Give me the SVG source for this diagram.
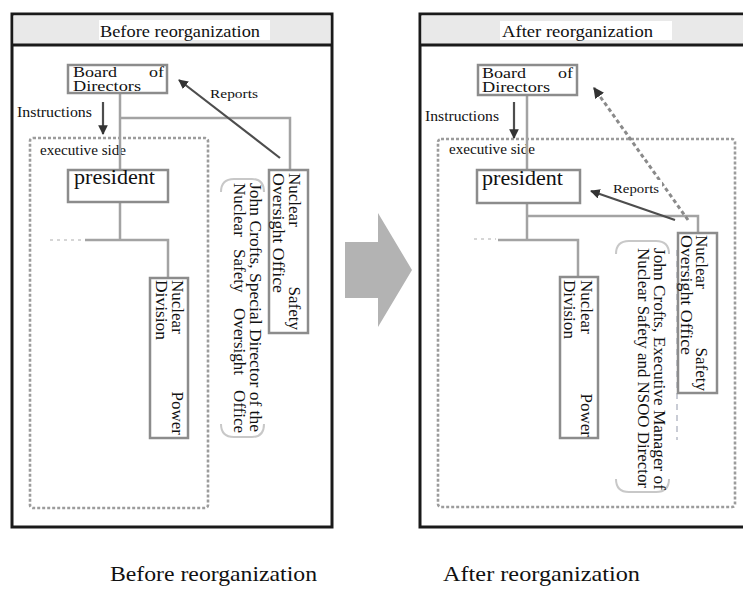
<svg xmlns="http://www.w3.org/2000/svg" width="743" height="592" viewBox="0 0 743 592">
<style>
text{font-family:"Liberation Serif","Times New Roman",serif;fill:#111}
.panel{fill:#fff;stroke:#1a1a1a;stroke-width:3}
.band{fill:#e9e9e9}
.sep{stroke:#1a1a1a;stroke-width:3}
.hdrbg{fill:#fff}
.box{fill:#fff;stroke:#8c8c8c;stroke-width:2.5}
.exec{fill:none;stroke:#9c9c9c;stroke-width:2.6;stroke-dasharray:3 2}
.conn{fill:none;stroke:#a3a3a3;stroke-width:2.5}
.faint{fill:none;stroke:#d6d6d6;stroke-width:2;stroke-dasharray:3 4}
.arr{fill:none;stroke:#4d4d4d;stroke-width:2.2}
.darr{fill:none;stroke:#8a8a8a;stroke-width:3;stroke-dasharray:4 3}
.brk{fill:none;stroke:#c8c8c8;stroke-width:2}
.t14{font-size:14px}
.t13{font-size:13px}
.t16{font-size:16px}
.tb{font-size:14px}
.t17{font-size:17px}
.t21{font-size:21px}
.cap{font-size:21px}
</style>
<defs>
<marker id="ah" viewBox="0 0 10 10" refX="9" refY="5" markerWidth="4.4" markerHeight="4.4" orient="auto" markerUnits="strokeWidth">
<path d="M0,0 L10,5 L0,10 z" fill="#333"/>
</marker>
<marker id="ah2" viewBox="0 0 10 10" refX="9" refY="5" markerWidth="3.6" markerHeight="3.6" orient="auto" markerUnits="strokeWidth">
<path d="M0,0 L10,5 L0,10 z" fill="#333"/>
</marker>
</defs>

<!-- Panels -->
<g id="panel-before">
<rect class="panel" x="12" y="14" width="320" height="513"/>
<rect class="band" x="13.5" y="15.5" width="317" height="28.5"/>
<line class="sep" x1="12" y1="45" x2="332" y2="45"/>
<rect class="hdrbg" x="99" y="20" width="171" height="20"/>
<text class="t16" x="100" y="37" textLength="160" lengthAdjust="spacingAndGlyphs">Before reorganization</text>
<rect class="exec" x="30" y="138" width="178" height="370" rx="3"/>
<rect class="hdrbg" x="38" y="142" width="88" height="16"/>
<text class="t14" x="40" y="155" textLength="86" lengthAdjust="spacingAndGlyphs">executive side</text>
</g>

<g id="panel-after">
<rect class="panel" x="420" y="14" width="340" height="513"/>
<rect class="band" x="421.5" y="15.5" width="337" height="28.5"/>
<line class="sep" x1="420" y1="45" x2="760" y2="45"/>
<rect class="hdrbg" x="500" y="21" width="172" height="19"/>
<text class="t16" x="502" y="37" textLength="151" lengthAdjust="spacingAndGlyphs">After reorganization</text>
<rect class="exec" x="438" y="139" width="297" height="368" rx="3"/>
<rect class="hdrbg" x="447" y="141" width="90" height="16"/>
<text class="t14" x="449" y="154" textLength="86" lengthAdjust="spacingAndGlyphs">executive side</text>
</g>

<!-- Connectors -->
<g id="connectors">
<path class="conn" d="M120,93 V170"/>
<path class="conn" d="M120,118 H290 V170"/>
<path class="conn" d="M120,202 V240"/>
<path class="conn" d="M85,240 H168 V278"/>
<path class="faint" d="M50,240 H82"/>
<path class="arr" d="M103,102 V134" marker-end="url(#ah)"/>
<path class="arr" d="M280,158 L179,80" marker-end="url(#ah)"/>

<path class="conn" d="M527,95 V170"/>
<path class="conn" d="M527,203 V240"/>
<path class="conn" d="M527,216 H698 V233"/>
<path class="conn" d="M498,240 H578 V277"/>
<path class="faint" d="M474,239 H496"/>
<path class="arr" d="M514,102 V138" marker-end="url(#ah)"/>
<path class="arr" d="M675,220 L591,191" marker-end="url(#ah)"/>
<path class="darr" d="M688,220 L594,88" marker-end="url(#ah2)"/>
<path class="faint" d="M677,250 V440" style="stroke:#b8bcc8;stroke-dasharray:6 5;stroke-width:1.5"/>
</g>

<!-- Labels on connectors -->
<g id="labels">
<text class="t14" x="17" y="117" textLength="75" lengthAdjust="spacingAndGlyphs">Instructions</text>
<text class="t13" x="210" y="98" textLength="48" lengthAdjust="spacingAndGlyphs">Reports</text>
<text class="t14" x="425" y="121" textLength="74" lengthAdjust="spacingAndGlyphs">Instructions</text>
<rect class="hdrbg" x="610" y="180" width="52" height="16"/>
<text class="t13" x="613" y="193" textLength="46" lengthAdjust="spacingAndGlyphs">Reports</text>
</g>

<!-- Before nodes -->
<g id="before-board">
<rect class="box" x="68" y="65" width="99" height="28"/>
<text class="tb" x="73" y="77" textLength="44" lengthAdjust="spacingAndGlyphs">Board</text>
<text class="tb" x="164" y="77" text-anchor="end" textLength="15" lengthAdjust="spacingAndGlyphs">of</text>
<text class="tb" x="73" y="91" textLength="68" lengthAdjust="spacingAndGlyphs">Directors</text>
</g>
<g id="before-president">
<rect class="box" x="68" y="170" width="100" height="32"/>
<text class="t21" x="74" y="184" textLength="81" lengthAdjust="spacingAndGlyphs">president</text>
</g>
<g id="before-npd">
<rect class="box" x="150" y="278" width="38" height="160"/>
<g transform="translate(172,280) rotate(90)">
<text class="t17" x="0" y="0">Nuclear</text>
<text class="t17" x="155" y="0" text-anchor="end">Power</text>
</g>
<g transform="translate(156,280) rotate(90)">
<text class="t17" x="0" y="0" textLength="60" lengthAdjust="spacingAndGlyphs">Division</text>
</g>
</g>
<g id="before-nsoo">
<rect class="box" x="269" y="170" width="39" height="163"/>
<g transform="translate(289,173) rotate(90)">
<text class="t17" x="0" y="0">Nuclear</text>
<text class="t17" x="157" y="0" text-anchor="end">Safety</text>
</g>
<g transform="translate(273,173) rotate(90)">
<text class="t17" x="0" y="0" textLength="120" lengthAdjust="spacingAndGlyphs">Oversight Office</text>
</g>
</g>
<g id="before-crofts">
<path class="brk" d="M221,192 Q221,179 234,179 H252 Q264,179 264,192"/>
<path class="brk" d="M221,424 Q221,437 234,437 H252 Q264,437 264,424"/>
<g transform="translate(250,183) rotate(90)">
<text class="t17" x="0" y="0" textLength="249" lengthAdjust="spacingAndGlyphs">John Crofts, Special Director of the</text>
</g>
<g transform="translate(234,183) rotate(90)">
<text class="t17" x="0" y="0">Nuclear</text>
<text class="t17" x="66" y="0">Safety</text>
<text class="t17" x="125" y="0">Oversight</text>
<text class="t17" x="250" y="0" text-anchor="end">Office</text>
</g>
</g>

<!-- Big arrow -->
<g id="transition-arrow">
<polygon points="345,242 378,242 378,213 412,270 378,327 378,298 345,298" fill="#b3b3b3"/>
</g>

<!-- After nodes -->
<g id="after-board">
<rect class="box" x="478" y="65" width="99" height="30"/>
<text class="tb" x="482" y="78" textLength="44" lengthAdjust="spacingAndGlyphs">Board</text>
<text class="tb" x="573" y="78" text-anchor="end" textLength="15" lengthAdjust="spacingAndGlyphs">of</text>
<text class="tb" x="482" y="92" textLength="68" lengthAdjust="spacingAndGlyphs">Directors</text>
</g>
<g id="after-president">
<rect class="box" x="477" y="170" width="103" height="33"/>
<text class="t21" x="482" y="185" textLength="81" lengthAdjust="spacingAndGlyphs">president</text>
</g>
<g id="after-npd">
<rect class="box" x="560" y="277" width="38" height="161"/>
<g transform="translate(581,280) rotate(90)">
<text class="t17" x="0" y="0">Nuclear</text>
<text class="t17" x="157" y="0" text-anchor="end">Power</text>
</g>
<g transform="translate(564,280) rotate(90)">
<text class="t17" x="0" y="0" textLength="59" lengthAdjust="spacingAndGlyphs">Division</text>
</g>
</g>
<g id="after-nsoo">
<rect class="box" x="678" y="233" width="39" height="160"/>
<g transform="translate(696,235) rotate(90)">
<text class="t17" x="0" y="0">Nuclear</text>
<text class="t17" x="156" y="0" text-anchor="end">Safety</text>
</g>
<g transform="translate(681,235) rotate(90)">
<text class="t17" x="0" y="0" textLength="120" lengthAdjust="spacingAndGlyphs">Oversight Office</text>
</g>
</g>
<g id="after-crofts">
<path class="brk" d="M616,254 Q616,241 629,241 H656 Q669,241 669,254"/>
<path class="brk" d="M616,479 Q616,492 629,492 H656 Q669,492 669,479"/>
<g transform="translate(654,248) rotate(90)">
<text class="t17" x="0" y="0" textLength="242" lengthAdjust="spacingAndGlyphs">John Crofts, Executive Manager of</text>
</g>
<g transform="translate(638,248) rotate(90)">
<text class="t17" x="0" y="0" textLength="240" lengthAdjust="spacingAndGlyphs">Nuclear Safety and NSOO Director</text>
</g>
</g>

<!-- Captions -->
<text class="cap" x="110" y="581" textLength="207" lengthAdjust="spacingAndGlyphs">Before reorganization</text>
<text class="cap" x="443" y="581" textLength="197" lengthAdjust="spacingAndGlyphs">After reorganization</text>
</svg>
